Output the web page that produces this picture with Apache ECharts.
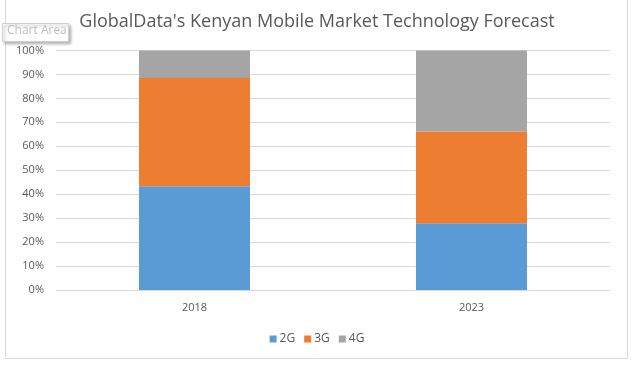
<!DOCTYPE html>
<html><head><meta charset="utf-8">
<script src="https://cdn.jsdelivr.net/npm/echarts@6/dist/echarts.min.js"></script>
<style>html,body{margin:0;padding:0;background:#fff}#c{width:634px;height:391px}</style>
</head><body><div id="c"></div>
<script>
const categories = ['2018', '2023'];
const s2G = [43.3, 27.9];
const s3G = [45.2, 38.3];
const s4G = [11.5, 33.8];
const seriesNames = ['2G', '3G', '4G'];
const colors = ['#5b9bd5', '#ed7d31', '#a5a5a5'];

const chart = echarts.init(document.getElementById('c'));
const font = 'Open Sans';
chart.setOption({
  animation: false,
  title: {
    text: "GlobalData's Kenyan Mobile Market Technology Forecast",
    left: 'center', top: 8,
    textStyle: {fontFamily: font, fontSize: 18, fontWeight: 'normal', color: '#595959'}
  },
  legend: {
    data: seriesNames, bottom: 41, left: 'center',
    itemWidth: 7, itemHeight: 7, itemGap: 9, icon: 'rect',
    textStyle: {fontFamily: font, fontSize: 12, color: '#595959', padding: [0,0,0,-2]}
  },
  grid: {left: 56, right: 24, top: 50.5, bottom: 101},
  xAxis: {
    type: 'category', data: categories,
    axisLine: {lineStyle: {color: '#d9d9d9'}}, axisTick: {show: false},
    axisLabel: {fontFamily: font, fontSize: 11, color: '#595959', margin: 12}
  },
  yAxis: {
    type: 'value', min: 0, max: 100, interval: 10,
    axisLine: {show: false}, axisTick: {show: false},
    splitLine: {lineStyle: {color: '#d9d9d9'}},
    axisLabel: {formatter: '{value}%', fontFamily: font, fontSize: 11, color: '#595959', margin: 12}
  },
  series: [
    {name: seriesNames[0], type: 'bar', stack: 't', data: s2G, barWidth: 111, itemStyle: {color: colors[0]}},
    {name: seriesNames[1], type: 'bar', stack: 't', data: s3G, itemStyle: {color: colors[1]}},
    {name: seriesNames[2], type: 'bar', stack: 't', data: s4G, itemStyle: {color: colors[2]}}
  ],
  graphic: [
    {type: 'rect', shape: {x: 5.5, y: -2, width: 622, height: 360.5}, style: {fill: 'none', stroke: '#d9d9d9', lineWidth: 1}, z: -1},
    {type: 'rect', shape: {x: 2.5, y: 23.5, width: 66, height: 18}, style: {fill: '#fff', stroke: '#cfcfcf', lineWidth: 1, shadowBlur: 3, shadowOffsetX: 2, shadowOffsetY: 2, shadowColor: 'rgba(0,0,0,0.3)'}, z: 100},
    {type: 'text', left: 7, top: 24.5, style: {text: 'Chart Area', font: '12px "Open Sans"', fill: '#bdbdbd'}, z: 101}
  ]
});
</script></body></html>
